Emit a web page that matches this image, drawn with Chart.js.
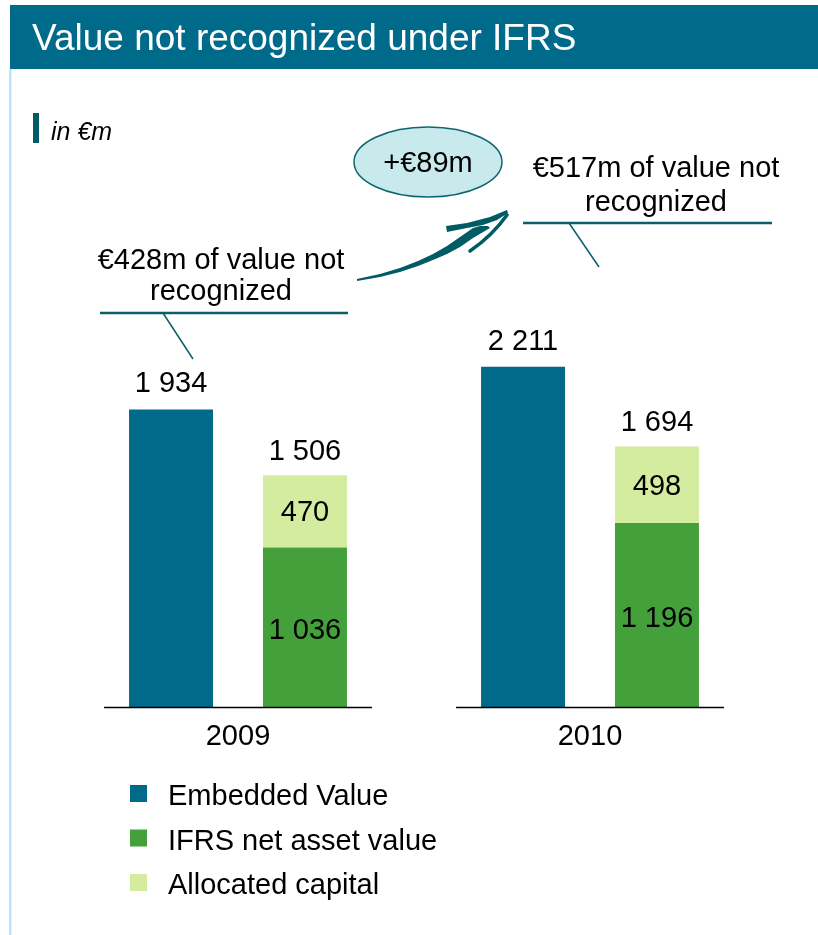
<!DOCTYPE html>
<html>
<head>
<meta charset="utf-8">
<script src="https://cdn.jsdelivr.net/npm/chart.js@4.4.1/dist/chart.umd.min.js"></script>
<style>
  html, body { margin: 0; padding: 0; background: #fff; }
  #wrap { position: absolute; left: 0; top: 0; width: 818px; height: 935px; }
</style>
</head>
<body>
<div id="wrap"><canvas id="chart"></canvas></div>
<script>
// data (in €m)
const years = ['2009', '2010'];
const embeddedValue = [1934, 2211];
const ifrsNetAssetValue = [1036, 1196];
const allocatedCapital = [470, 498];
const seriesNames = ['Embedded Value', 'IFRS net asset value', 'Allocated capital'];

const titleText = 'Value not recognized under IFRS';
const unitText = 'in €m';
const deltaText = '+€89m';
const notRecognized = [['€428m of value not', 'recognized'], ['€517m of value not', 'recognized']];

const FONT = '"Liberation Sans", Arial, sans-serif';
const TEAL = '#006a8a';
const GREEN = '#43a03b';
const LIGHT = '#d4eca0';
const LINE = '#0a5f6b';

const fmt = (v) => String(v).replace(/\B(?=(\d{3})+(?!\d))/g, ' ');

// small helper for the swoosh arrow
function poly(ctx, pts) {
  ctx.beginPath();
  ctx.moveTo(pts[0][0], pts[0][1]);
  for (let i = 1; i < pts.length; i++) ctx.lineTo(pts[i][0], pts[i][1]);
  ctx.closePath();
  ctx.fill();
}

const decor = {
  id: 'decor',
  beforeDraw(chart) {
    const ctx = chart.ctx;
    ctx.save();
    ctx.fillStyle = '#fff';
    ctx.fillRect(0, 0, chart.width, chart.height);
    // header bar
    ctx.fillStyle = TEAL;
    ctx.fillRect(10, 5, chart.width - 10, 64);
    ctx.fillStyle = '#fff';
    ctx.font = '37px ' + FONT;
    ctx.textBaseline = 'alphabetic';
    ctx.fillText(titleText, 32, 50);
    // left frame line
    ctx.strokeStyle = '#b7dafa';
    ctx.lineWidth = 2;
    ctx.beginPath();
    ctx.moveTo(10.3, 69);
    ctx.lineTo(10.3, chart.height);
    ctx.stroke();
    // unit label
    ctx.fillStyle = '#005b68';
    ctx.fillRect(33, 113, 6, 30);
    ctx.fillStyle = '#000';
    ctx.font = 'italic 25px ' + FONT;
    ctx.fillText(unitText, 51, 140);
    ctx.restore();
  },
  afterDatasetsDraw(chart) {
    const ctx = chart.ctx;
    const x = chart.scales.x;
    const catW = x.width / years.length;
    const groupW = catW * 0.761;
    ctx.save();

    // axis line under each group + year labels
    ctx.strokeStyle = '#000';
    ctx.lineWidth = 1.5;
    ctx.fillStyle = '#000';
    ctx.font = '29px ' + FONT;
    ctx.textAlign = 'center';
    years.forEach((yr, i) => {
      const cx = x.getPixelForValue(i);
      ctx.beginPath();
      ctx.moveTo(cx - groupW / 2, chart.chartArea.bottom + 0.5);
      ctx.lineTo(cx + groupW / 2, chart.chartArea.bottom + 0.5);
      ctx.stroke();
      ctx.fillText(yr, cx, chart.chartArea.bottom + 38);
    });

    // value labels
    const evMeta = chart.getDatasetMeta(0);
    const navMeta = chart.getDatasetMeta(1);
    const capMeta = chart.getDatasetMeta(2);
    years.forEach((yr, i) => {
      const ev = evMeta.data[i];
      ctx.textBaseline = 'alphabetic';
      ctx.fillText(fmt(embeddedValue[i]), ev.x, ev.y - 17);
      const cap = capMeta.data[i];
      ctx.fillText(fmt(ifrsNetAssetValue[i] + allocatedCapital[i]), cap.x, cap.y - 15);
      ctx.textBaseline = 'middle';
      ctx.fillText(fmt(allocatedCapital[i]), cap.x, (cap.y + cap.base) / 2 + 2);
      const nav = navMeta.data[i];
      ctx.fillText(fmt(ifrsNetAssetValue[i]), nav.x, (nav.y + nav.base) / 2 + 4);
    });

    // callouts
    ctx.textBaseline = 'alphabetic';
    const callouts = [
      { cx: 221, y1: 269, y2: 300, ul: [100, 348, 313], lead: [163, 313, 193, 359] },
      { cx: 656, y1: 177, y2: 211, ul: [523, 772, 223], lead: [569, 223, 599, 267] }
    ];
    callouts.forEach((c, i) => {
      ctx.fillStyle = '#000';
      ctx.fillText(notRecognized[i][0], c.cx, c.y1);
      ctx.fillText(notRecognized[i][1], c.cx, c.y2);
      ctx.strokeStyle = LINE;
      ctx.lineWidth = 2.5;
      ctx.beginPath();
      ctx.moveTo(c.ul[0], c.ul[2]);
      ctx.lineTo(c.ul[1], c.ul[2]);
      ctx.stroke();
      ctx.lineWidth = 1.5;
      ctx.beginPath();
      ctx.moveTo(c.lead[0], c.lead[1]);
      ctx.lineTo(c.lead[2], c.lead[3]);
      ctx.stroke();
    });

    // ellipse with the increase
    ctx.beginPath();
    ctx.ellipse(428, 162, 74, 35, 0, 0, Math.PI * 2);
    ctx.fillStyle = '#c9eaec';
    ctx.fill();
    ctx.strokeStyle = '#0f6670';
    ctx.lineWidth = 1.5;
    ctx.stroke();
    ctx.fillStyle = '#000';
    ctx.fillText(deltaText, 428, 172);

    // curved swoosh arrow
    ctx.fillStyle = '#005b65';
    poly(ctx, [[357, 281], [380, 277], [400, 272], [418, 266], [433, 260], [447, 254], [460, 247],
      [473, 238], [490, 228], [488, 226], [480, 226], [473, 228], [460, 237], [447, 246],
      [433, 254], [418, 261], [400, 268], [380, 274], [357, 279]]);
    // upper wing of the head
    poly(ctx, [[446, 226], [467, 223], [490, 217], [507, 210], [508, 213], [497, 220],
      [483, 225], [467, 228], [447, 232]]);
    // lower wing of the head
    ctx.strokeStyle = '#005b65';
    ctx.lineWidth = 3.5;
    ctx.lineCap = 'round';
    ctx.beginPath();
    ctx.moveTo(507, 215);
    ctx.quadraticCurveTo(492, 236, 470, 251);
    ctx.stroke();

    // legend
    ctx.textAlign = 'left';
    ctx.textBaseline = 'alphabetic';
    chart.data.datasets.forEach((ds, i) => {
      const top = 785 + i * 44.5;
      ctx.fillStyle = ds.backgroundColor;
      ctx.fillRect(130, top, 17, 17);
      ctx.fillStyle = '#000';
      ctx.fillText(ds.label, 168, top + 20);
    });
    ctx.restore();
  }
};

new Chart(document.getElementById('chart'), {
  type: 'bar',
  data: {
    labels: years,
    datasets: [
      { label: seriesNames[0], data: embeddedValue, backgroundColor: TEAL, stack: 'ev' },
      { label: seriesNames[1], data: ifrsNetAssetValue, backgroundColor: GREEN, stack: 'nav' },
      { label: seriesNames[2], data: allocatedCapital, backgroundColor: LIGHT, stack: 'nav' }
    ]
  },
  options: {
    responsive: true,
    maintainAspectRatio: false,
    animation: false,
    categoryPercentage: 0.761,
    barPercentage: 0.627,
    layout: { padding: { left: 62, right: 52, top: 307, bottom: 228 } },
    plugins: {
      legend: { display: false },
      tooltip: { enabled: false }
    },
    scales: {
      x: { stacked: true, display: false },
      y: { stacked: true, display: false, min: 0, max: 2600 }
    }
  },
  plugins: [decor]
});
</script>
</body>
</html>
